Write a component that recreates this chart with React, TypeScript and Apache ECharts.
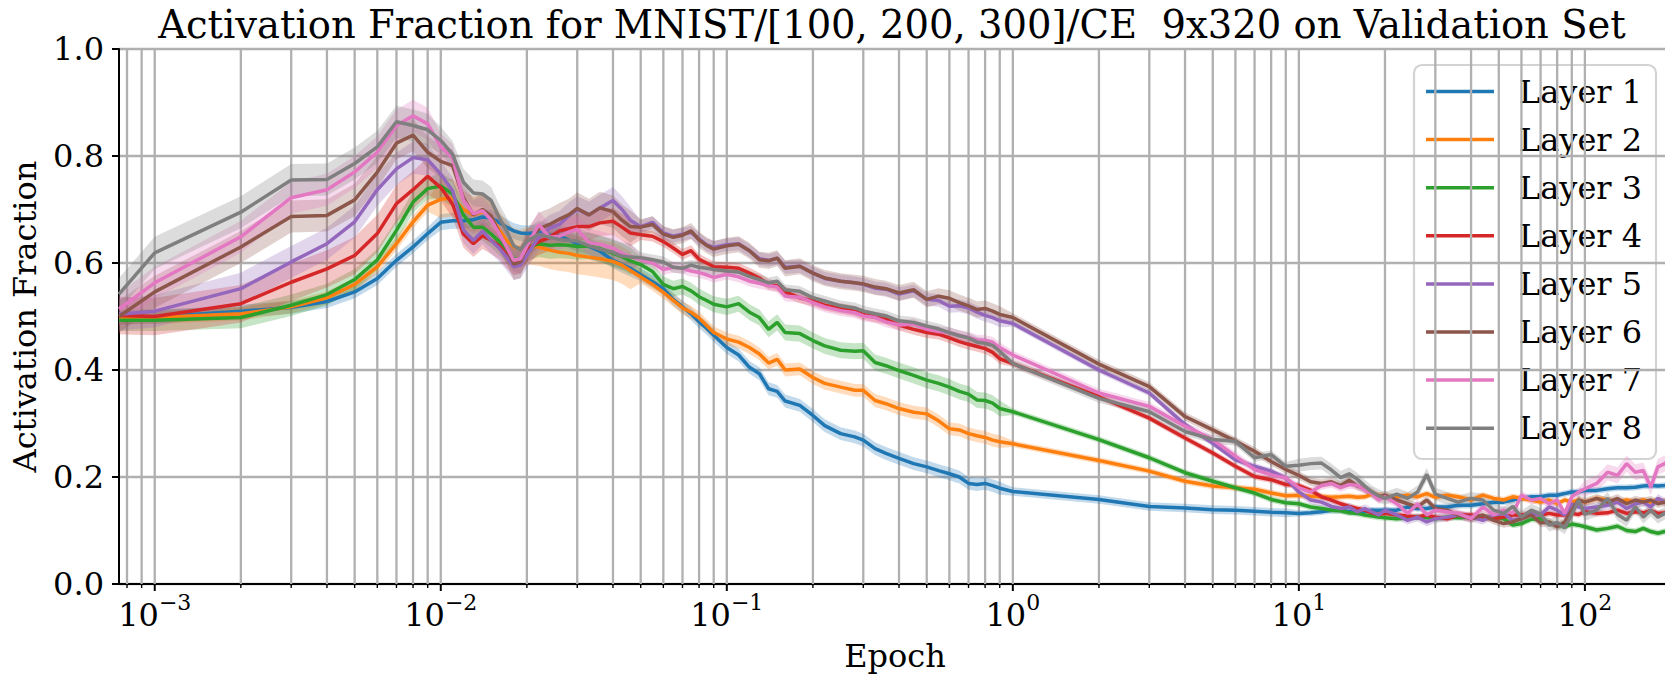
import React, { useEffect, useRef } from 'react';
import * as echarts from 'echarts';

// ---------------- data ----------------
const epochs = [
  0.00075, 0.001, 0.002, 0.003, 0.004, 0.005, 0.006, 0.007, 0.008, 0.009,
  0.01, 0.011, 0.012, 0.013, 0.014, 0.015, 0.016, 0.017, 0.018, 0.019,
  0.02, 0.022, 0.024, 0.026, 0.028, 0.03, 0.033, 0.036, 0.04, 0.043,
  0.046, 0.05, 0.055, 0.06, 0.065, 0.07, 0.075, 0.08, 0.085, 0.09,
  0.1, 0.11, 0.12, 0.13, 0.14, 0.15, 0.16, 0.18, 0.2, 0.22,
  0.25, 0.28, 0.3, 0.33, 0.36, 0.4, 0.45, 0.5, 0.55, 0.6,
  0.65, 0.7, 0.75, 0.8, 0.85, 0.9, 1, 2, 3, 4,
  5, 6, 7, 8, 9, 10, 11, 12, 13, 14,
  15, 16, 17, 18, 19, 20, 22, 24, 26, 28,
  30, 33, 36, 40, 44, 48, 52, 56, 60, 65,
  70, 75, 80, 85, 90, 95, 100, 110, 120, 130,
  140, 150, 160, 170, 180, 190, 200,
];

const layer1 = [
  0.497, 0.499, 0.510, 0.517, 0.528, 0.546, 0.571, 0.605, 0.630, 0.655,
  0.676, 0.679, 0.679, 0.681, 0.686, 0.684, 0.676, 0.667, 0.660, 0.656,
  0.655, 0.657, 0.652, 0.650, 0.643, 0.636, 0.631, 0.622, 0.605, 0.597,
  0.590, 0.578, 0.565, 0.552, 0.532, 0.518, 0.505, 0.490, 0.478, 0.465,
  0.442, 0.428, 0.405, 0.393, 0.365, 0.360, 0.342, 0.334, 0.315, 0.296,
  0.281, 0.275, 0.269, 0.253, 0.244, 0.235, 0.225, 0.219, 0.212, 0.206,
  0.200, 0.188, 0.186, 0.188, 0.184, 0.179, 0.173, 0.158, 0.145, 0.142,
  0.139, 0.138, 0.136, 0.134, 0.133, 0.132, 0.133, 0.135, 0.138, 0.138,
  0.135, 0.135, 0.135, 0.138, 0.138, 0.138, 0.138, 0.144, 0.141, 0.141,
  0.144, 0.144, 0.147, 0.147, 0.150, 0.153, 0.153, 0.157, 0.160, 0.163,
  0.163, 0.166, 0.166, 0.169, 0.172, 0.172, 0.175, 0.175, 0.178, 0.180,
  0.180, 0.181, 0.183, 0.184, 0.183, 0.184, 0.185,
];

const layer2 = [
  0.497, 0.498, 0.505, 0.518, 0.535, 0.560, 0.593, 0.636, 0.677, 0.708,
  0.719, 0.722, 0.700, 0.690, 0.696, 0.686, 0.662, 0.642, 0.630, 0.627,
  0.632, 0.630, 0.624, 0.620, 0.618, 0.614, 0.611, 0.608, 0.603, 0.596,
  0.586, 0.574, 0.560, 0.545, 0.530, 0.516, 0.508, 0.497, 0.483, 0.470,
  0.458, 0.452, 0.442, 0.430, 0.413, 0.420, 0.400, 0.402, 0.386, 0.375,
  0.368, 0.362, 0.362, 0.343, 0.337, 0.328, 0.321, 0.318, 0.305, 0.290,
  0.288, 0.281, 0.277, 0.274, 0.269, 0.266, 0.262, 0.231, 0.211, 0.192,
  0.183, 0.180, 0.177, 0.170, 0.165, 0.166, 0.164, 0.163, 0.162, 0.163,
  0.164, 0.162, 0.163, 0.168, 0.166, 0.163, 0.163, 0.166, 0.163, 0.169,
  0.162, 0.166, 0.163, 0.157, 0.166, 0.160, 0.157, 0.163, 0.160, 0.157,
  0.153, 0.157, 0.150, 0.157, 0.153, 0.157, 0.153, 0.160, 0.157, 0.153,
  0.157, 0.153, 0.157, 0.153, 0.157, 0.153, 0.155,
];

const layer3 = [
  0.493, 0.493, 0.498, 0.521, 0.541, 0.569, 0.606, 0.661, 0.714, 0.739,
  0.744, 0.729, 0.690, 0.667, 0.667, 0.654, 0.640, 0.625, 0.608, 0.606,
  0.628, 0.636, 0.633, 0.634, 0.633, 0.631, 0.632, 0.627, 0.618, 0.612,
  0.604, 0.597, 0.584, 0.560, 0.552, 0.556, 0.548, 0.537, 0.530, 0.523,
  0.518, 0.524, 0.508, 0.498, 0.476, 0.489, 0.470, 0.468, 0.455, 0.445,
  0.437, 0.435, 0.436, 0.414, 0.408, 0.399, 0.390, 0.381, 0.375, 0.368,
  0.360, 0.355, 0.344, 0.343, 0.338, 0.328, 0.322, 0.270, 0.236, 0.208,
  0.192, 0.180, 0.170, 0.158, 0.152, 0.150, 0.144, 0.141, 0.138, 0.137,
  0.133, 0.132, 0.129, 0.127, 0.125, 0.124, 0.122, 0.124, 0.125, 0.124,
  0.122, 0.125, 0.124, 0.125, 0.124, 0.125, 0.122, 0.110, 0.113, 0.121,
  0.122, 0.114, 0.110, 0.107, 0.112, 0.110, 0.107, 0.101, 0.104, 0.108,
  0.100, 0.098, 0.104, 0.098, 0.095, 0.098, 0.097,
];

const layer4 = [
  0.502, 0.500, 0.524, 0.564, 0.589, 0.614, 0.655, 0.711, 0.737, 0.762,
  0.741, 0.710, 0.654, 0.636, 0.651, 0.642, 0.632, 0.615, 0.602, 0.605,
  0.625, 0.640, 0.648, 0.660, 0.664, 0.668, 0.668, 0.675, 0.678, 0.667,
  0.656, 0.653, 0.650, 0.640, 0.628, 0.616, 0.623, 0.607, 0.600, 0.593,
  0.592, 0.590, 0.581, 0.572, 0.560, 0.557, 0.546, 0.535, 0.529, 0.521,
  0.515, 0.510, 0.504, 0.499, 0.495, 0.484, 0.476, 0.470, 0.467, 0.460,
  0.453, 0.448, 0.444, 0.440, 0.433, 0.421, 0.412, 0.350, 0.310, 0.273,
  0.245, 0.220, 0.201, 0.195, 0.186, 0.184, 0.175, 0.163, 0.157, 0.150,
  0.145, 0.141, 0.138, 0.133, 0.130, 0.132, 0.129, 0.127, 0.125, 0.129,
  0.125, 0.122, 0.129, 0.129, 0.125, 0.122, 0.125, 0.129, 0.129, 0.132,
  0.129, 0.132, 0.129, 0.129, 0.132, 0.130, 0.135, 0.132, 0.133, 0.138,
  0.132, 0.135, 0.133, 0.137, 0.132, 0.133, 0.135,
];

const layer5 = [
  0.504, 0.510, 0.552, 0.602, 0.636, 0.677, 0.737, 0.776, 0.797, 0.793,
  0.766, 0.735, 0.662, 0.642, 0.660, 0.642, 0.628, 0.611, 0.593, 0.596,
  0.615, 0.648, 0.665, 0.672, 0.688, 0.700, 0.690, 0.703, 0.717, 0.700,
  0.680, 0.668, 0.676, 0.656, 0.650, 0.654, 0.657, 0.645, 0.634, 0.629,
  0.634, 0.636, 0.623, 0.608, 0.605, 0.609, 0.592, 0.594, 0.581, 0.571,
  0.566, 0.563, 0.560, 0.553, 0.551, 0.542, 0.548, 0.532, 0.530, 0.519,
  0.520, 0.516, 0.508, 0.502, 0.498, 0.492, 0.487, 0.400, 0.357, 0.298,
  0.263, 0.232, 0.220, 0.211, 0.198, 0.172, 0.157, 0.153, 0.145, 0.141,
  0.144, 0.135, 0.141, 0.135, 0.129, 0.138, 0.129, 0.119, 0.125, 0.116,
  0.122, 0.125, 0.129, 0.125, 0.119, 0.129, 0.132, 0.119, 0.122, 0.132,
  0.129, 0.144, 0.138, 0.129, 0.150, 0.144, 0.141, 0.144, 0.147, 0.153,
  0.141, 0.150, 0.153, 0.144, 0.160, 0.153, 0.150,
];

const layer6 = [
  0.500, 0.546, 0.630, 0.687, 0.689, 0.718, 0.770, 0.824, 0.839, 0.807,
  0.790, 0.782, 0.722, 0.690, 0.700, 0.688, 0.655, 0.628, 0.598, 0.602,
  0.632, 0.664, 0.672, 0.682, 0.690, 0.702, 0.690, 0.703, 0.696, 0.680,
  0.668, 0.667, 0.672, 0.654, 0.648, 0.652, 0.660, 0.643, 0.633, 0.626,
  0.632, 0.635, 0.623, 0.606, 0.604, 0.609, 0.590, 0.594, 0.581, 0.572,
  0.566, 0.563, 0.561, 0.555, 0.552, 0.544, 0.550, 0.532, 0.538, 0.534,
  0.526, 0.520, 0.513, 0.515, 0.510, 0.504, 0.498, 0.411, 0.369, 0.313,
  0.288, 0.267, 0.248, 0.229, 0.214, 0.203, 0.191, 0.188, 0.191, 0.184,
  0.194, 0.183, 0.178, 0.172, 0.163, 0.166, 0.157, 0.150, 0.144, 0.157,
  0.141, 0.138, 0.129, 0.122, 0.129, 0.119, 0.113, 0.116, 0.122, 0.129,
  0.114, 0.116, 0.107, 0.116, 0.138, 0.157, 0.153, 0.160, 0.153, 0.160,
  0.150, 0.157, 0.153, 0.157, 0.150, 0.153, 0.150,
];

const layer7 = [
  0.514, 0.563, 0.649, 0.722, 0.737, 0.770, 0.807, 0.857, 0.875, 0.860,
  0.817, 0.797, 0.717, 0.692, 0.698, 0.680, 0.655, 0.630, 0.605, 0.608,
  0.632, 0.672, 0.648, 0.650, 0.658, 0.663, 0.638, 0.635, 0.628, 0.618,
  0.612, 0.606, 0.600, 0.588, 0.592, 0.590, 0.585, 0.582, 0.578, 0.573,
  0.579, 0.574, 0.566, 0.562, 0.558, 0.555, 0.538, 0.536, 0.526, 0.518,
  0.511, 0.507, 0.501, 0.498, 0.490, 0.484, 0.486, 0.476, 0.472, 0.470,
  0.465, 0.461, 0.456, 0.455, 0.452, 0.442, 0.428, 0.357, 0.332, 0.295,
  0.270, 0.239, 0.214, 0.204, 0.198, 0.180, 0.172, 0.184, 0.188, 0.180,
  0.186, 0.184, 0.176, 0.169, 0.157, 0.163, 0.150, 0.132, 0.150, 0.129,
  0.138, 0.135, 0.132, 0.122, 0.144, 0.129, 0.138, 0.132, 0.166, 0.157,
  0.160, 0.150, 0.157, 0.132, 0.163, 0.172, 0.178, 0.188, 0.209, 0.203,
  0.225, 0.209, 0.212, 0.181, 0.219, 0.225, 0.236,
];

const layer8 = [
  0.542, 0.619, 0.695, 0.755, 0.756, 0.786, 0.817, 0.864, 0.857, 0.849,
  0.829, 0.803, 0.751, 0.731, 0.729, 0.717, 0.685, 0.660, 0.632, 0.625,
  0.640, 0.654, 0.648, 0.644, 0.642, 0.641, 0.632, 0.626, 0.620, 0.613,
  0.611, 0.610, 0.606, 0.602, 0.592, 0.590, 0.596, 0.592, 0.590, 0.588,
  0.585, 0.583, 0.575, 0.569, 0.563, 0.566, 0.550, 0.547, 0.535, 0.529,
  0.520, 0.516, 0.510, 0.505, 0.501, 0.492, 0.489, 0.482, 0.477, 0.470,
  0.464, 0.460, 0.452, 0.450, 0.446, 0.435, 0.412, 0.347, 0.322, 0.285,
  0.270, 0.267, 0.236, 0.242, 0.220, 0.222, 0.225, 0.226, 0.213, 0.199,
  0.206, 0.196, 0.183, 0.172, 0.165, 0.160, 0.168, 0.160, 0.172, 0.205,
  0.168, 0.160, 0.153, 0.160, 0.157, 0.138, 0.132, 0.145, 0.125, 0.138,
  0.130, 0.110, 0.115, 0.105, 0.130, 0.157, 0.130, 0.138, 0.160, 0.130,
  0.119, 0.145, 0.125, 0.138, 0.125, 0.132, 0.135,
];

const layerNames = ['Layer 1', 'Layer 2', 'Layer 3', 'Layer 4', 'Layer 5', 'Layer 6', 'Layer 7', 'Layer 8'];
const layerValues = [layer1, layer2, layer3, layer4, layer5, layer6, layer7, layer8];
const layerColors = ['#1f77b4', '#ff7f0e', '#2ca02c', '#d62728', '#9467bd', '#8c564b', '#e377c2', '#7f7f7f'];

// half-width of the shaded band, read per epoch range (range starts below)
const bandStarts = [0.00075, 0.01, 0.05, 1, 10, 100];
const bandHalfWidths = [
  [0.012, 0.015, 0.012, 0.008, 0.006, 0.006],
  [0.012, 0.035, 0.012, 0.006, 0.006, 0.006],
  [0.020, 0.025, 0.015, 0.006, 0.006, 0.006],
  [0.035, 0.025, 0.010, 0.006, 0.006, 0.006],
  [0.030, 0.025, 0.012, 0.006, 0.008, 0.008],
  [0.030, 0.030, 0.015, 0.008, 0.008, 0.008],
  [0.030, 0.025, 0.010, 0.008, 0.008, 0.015],
  [0.030, 0.025, 0.010, 0.008, 0.012, 0.012],
];

const majorTickEpochs = [0.001, 0.01, 0.1, 1, 10, 100];
const minorTickEpochs = [
  0.0008, 0.0009,
  0.002, 0.003, 0.004, 0.005, 0.006, 0.007, 0.008, 0.009,
  0.02, 0.03, 0.04, 0.05, 0.06, 0.07, 0.08, 0.09,
  0.2, 0.3, 0.4, 0.5, 0.6, 0.7, 0.8, 0.9,
  2, 3, 4, 5, 6, 7, 8, 9,
  20, 30, 40, 50, 60, 70, 80, 90,
];

const titleText = 'Activation Fraction for MNIST/[100, 200, 300]/CE  9x320 on Validation Set';
const xAxisTitle = 'Epoch';
const yAxisTitle = 'Activation Fraction';

// ---------------- chart ----------------
const FONT = 'DejaVu Serif';
const GRID_GRAY = '#b0b0b0';
const GRID_W = 2.3;
const LINE_W = 3.5;

function bandIndex(e: number) {
  let idx = 0;
  for (let k = 0; k < bandStarts.length; k++) if (e >= bandStarts[k]) idx = k;
  return idx;
}

function legendGraphic() {
  const boxX = 1414;
  const boxY = 65;
  const boxW = 242;
  const boxH = 394;
  const rowY0 = 91.5;
  const rowStep = 48.1;
  const children: any[] = [
    {
      type: 'rect',
      shape: { x: boxX, y: boxY, width: boxW, height: boxH, r: 8 },
      style: { fill: 'rgba(255,255,255,0.8)', stroke: '#d3d3d3', lineWidth: 2.2 },
    },
  ];
  layerNames.forEach((name, i) => {
    const y = rowY0 + rowStep * i;
    children.push({
      type: 'line',
      shape: { x1: 1426, y1: y, x2: 1494, y2: y },
      style: { stroke: layerColors[i], lineWidth: LINE_W },
    });
    children.push({
      type: 'text',
      x: 1519,
      y,
      style: {
        text: name,
        fontFamily: FONT,
        fontSize: 32,
        fill: '#000',
        align: 'left',
        verticalAlign: 'middle',
        textAlign: 'left',
        textVerticalAlign: 'middle',
      },
    });
  });
  return { type: 'group', z: 20, silent: true, children };
}

function buildOption() {
  const series: any[] = [];

  const tickData = [
    ...majorTickEpochs.map((v) => [v, 0, 1]),
    ...minorTickEpochs.map((v) => [v, 0, 0]),
  ];
  series.push({
    type: 'custom',
    name: 'grid-x',
    coordinateSystem: 'cartesian2d',
    silent: true,
    clip: false,
    z: 1,
    data: tickData,
    renderItem: (params: any, api: any) => {
      const x = api.coord([api.value(0), 0.5])[0];
      const cs = params.coordSys;
      const major = api.value(2) === 1;
      const bottom = cs.y + cs.height;
      return {
        type: 'group',
        children: [
          { type: 'line', shape: { x1: x, y1: cs.y, x2: x, y2: bottom }, style: { stroke: GRID_GRAY, lineWidth: GRID_W } },
          { type: 'line', shape: { x1: x, y1: bottom, x2: x, y2: bottom + (major ? 7 : 4) }, style: { stroke: '#000', lineWidth: major ? 2 : 1.4 } },
        ],
      };
    },
  });

  layerValues.forEach((vals, i) => {
    const hw = bandHalfWidths[i];
    series.push({
      type: 'custom',
      name: layerNames[i] + ' band',
      coordinateSystem: 'cartesian2d',
      silent: true,
      z: 3,
      data: [[epochs[0], vals[0]]],
      renderItem: (params: any, api: any) => {
        const up: number[][] = [];
        const lo: number[][] = [];
        for (let k = 0; k < epochs.length; k++) {
          const h = hw[bandIndex(epochs[k])];
          up.push(api.coord([epochs[k], vals[k] + h]));
          lo.push(api.coord([epochs[k], vals[k] - h]));
        }
        return {
          type: 'polygon',
          shape: { points: up.concat(lo.reverse()) },
          style: { fill: layerColors[i], opacity: 0.27 },
        };
      },
    });
    series.push({
      type: 'line',
      name: layerNames[i],
      data: epochs.map((e, k) => [e, vals[k]]),
      showSymbol: false,
      symbol: 'none',
      silent: true,
      z: 3,
      lineStyle: { width: LINE_W, color: layerColors[i] },
      itemStyle: { color: layerColors[i] },
    });
  });

  return {
    animation: false,
    backgroundColor: '#ffffff',
    textStyle: { fontFamily: FONT },
    grid: {
      left: 119,
      top: 49,
      width: 1552,
      height: 535,
      show: true,
      borderColor: '#000',
      borderWidth: 2,
      backgroundColor: 'transparent',
      containLabel: false,
      outerBoundsMode: 'none',
    },
    xAxis: {
      type: 'log',
      logBase: 10,
      min: 0.00075,
      max: 200,
      name: xAxisTitle,
      nameLocation: 'middle',
      nameGap: 56,
      nameTextStyle: { fontFamily: FONT, fontSize: 32, color: '#000' },
      axisLine: { show: true, lineStyle: { color: '#000', width: 2 } },
      axisTick: { show: false },
      splitLine: { show: false },
      minorTick: { show: false },
      minorSplitLine: { show: false },
      axisLabel: {
        show: true,
        showMinLabel: false,
        showMaxLabel: false,
        margin: 7,
        fontFamily: FONT,
        fontSize: 32,
        color: '#000',
        formatter: (v: number) => {
          const e = Math.round(Math.log10(v));
          const ex = e < 0 ? '\u2212' + String(-e) : String(e);
          return '{b|10}{s|' + ex + '}';
        },
        rich: {
          b: { fontFamily: FONT, fontSize: 32, color: '#000', verticalAlign: 'bottom', lineHeight: 40 },
          s: { fontFamily: FONT, fontSize: 22, color: '#000', verticalAlign: 'top', lineHeight: 22 },
        },
      },
    },
    yAxis: {
      type: 'value',
      min: 0,
      max: 1,
      interval: 0.2,
      name: yAxisTitle,
      nameLocation: 'middle',
      nameGap: 78,
      nameTextStyle: { fontFamily: FONT, fontSize: 32, color: '#000' },
      axisLine: { show: true, lineStyle: { color: '#000', width: 2 } },
      axisTick: { show: true, length: 7, lineStyle: { color: '#000', width: 2 } },
      splitLine: { show: true, lineStyle: { color: GRID_GRAY, width: GRID_W } },
      axisLabel: {
        fontFamily: FONT,
        fontSize: 32,
        color: '#000',
        margin: 15,
        formatter: (v: number) => v.toFixed(1),
      },
    },
    graphic: [
      {
        type: 'text',
        x: 892,
        y: 5,
        z: 10,
        style: {
          text: titleText,
          fontFamily: FONT,
          fontSize: 38.5,
          fill: '#000',
          align: 'center',
          verticalAlign: 'top',
          textAlign: 'center',
          textVerticalAlign: 'top',
        },
      },
      legendGraphic(),
    ],
    series,
  };
}

export default function App() {
  const ref = useRef<HTMLDivElement>(null);
  useEffect(() => {
    if (!ref.current) return;
    const chart = echarts.init(ref.current, null, { renderer: 'svg', width: 1665, height: 675 });
    chart.setOption(buildOption() as any);
    return () => {
      chart.dispose();
    };
  }, []);
  return (
    <div
      ref={ref}
      style={{ position: 'absolute', left: 0, top: 0, width: 1665, height: 675, background: '#fff' }}
    />
  );
}
